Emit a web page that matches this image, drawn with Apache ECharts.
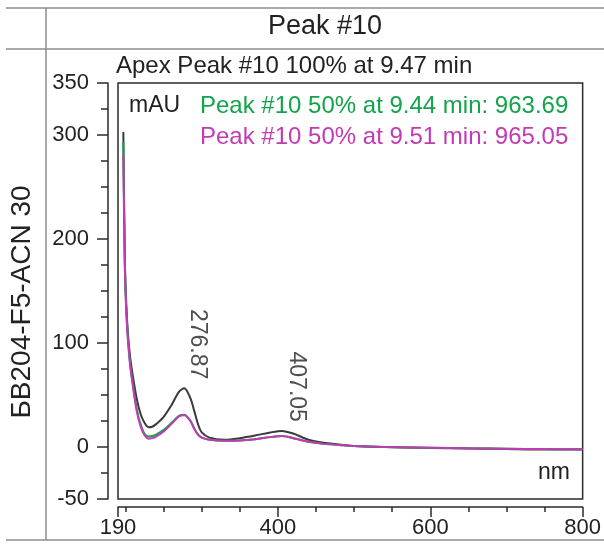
<!DOCTYPE html>
<html>
<head>
<meta charset="utf-8">
<script src="https://cdn.jsdelivr.net/npm/echarts@6/dist/echarts.min.js"></script>
<style>
  html, body { margin: 0; padding: 0; background: #fff; }
  #main { width: 604px; height: 549px; }
</style>
</head>
<body>
<div id="main"></div>
<script>
// wavelength (nm) and absorbance (mAU)
var wavelength = [197, 199, 201, 203, 206, 210, 215, 220, 225, 230, 235, 240, 250, 260, 270, 277, 285, 290, 295, 300,
  310, 330, 350, 370, 390, 405, 420, 440, 460, 480, 500, 540, 600, 650, 700, 750, 800];
// apex spectrum, 9.47 min (black)
var apexAbs = [303, 180, 135, 110, 86, 66, 45, 31, 23, 19, 19.5, 22, 29, 40, 53, 56.5, 47, 35, 22, 14,
  9, 7, 8.5, 11, 14, 15.5, 13, 7, 4, 2.5, 1, 0, -1, -1.5, -2, -2.5, -2.5];
// 50% upslope, 9.44 min (green)
var upAbs = [293, 176, 130, 105, 80, 58, 35, 21, 12.5, 10, 10.5, 12, 16.5, 23, 30, 31, 25.5, 18, 12, 9,
  7, 6, 6.3, 7.5, 9.5, 10.5, 8.5, 5, 3, 2, 1, 0, -0.8, -1.3, -1.6, -2, -2.2];
// 50% downslope, 9.51 min (magenta)
var downAbs = [281, 172, 128, 103, 78, 56, 33, 19, 11, 8, 8.5, 10, 15, 22, 29.5, 30.5, 25, 17.5, 12, 9,
  7, 6, 6.3, 7.5, 9.5, 10.5, 8.5, 5, 3, 2, 1, 0, -0.8, -1.3, -1.6, -2, -2.2];

// maxima labelled on the apex spectrum
var peakNm = [276.87, 407.05];
var peakAbs = [56.5, 15.5];

var xLabelTicks = [190, 400, 600, 800];
var xSmallTicks = [190, 200, 250, 300, 350, 400, 450, 500, 550, 600, 650, 700, 750, 800];
var yLabelTicks = [350, 300, 200, 100, 0, -50];
var ySmallTicks = [-50, -25, 0, 25, 50, 75, 100, 125, 150, 175, 200, 225, 250, 275, 300, 325, 350];

var txt = '#222';
var font = '"Liberation Sans", Arial, sans-serif';

function zip(xs, ys) {
  return xs.map(function (x, i) { return [x, ys[i]]; });
}

var myChart = echarts.init(document.getElementById('main'));

var frame = { stroke: '#8c8c8c', lineWidth: 1.5 };
var axisInk = { color: '#2a2a2a', width: 1.5 };

myChart.setOption({
  animation: false,
  backgroundColor: '#fff',
  textStyle: { fontFamily: font },
  title: [
    { text: 'Peak #10', left: 268, top: 13, padding: 0,
      textStyle: { fontSize: 27, fontWeight: 'normal', color: txt, fontFamily: font } },
    { text: 'Apex Peak #10 100% at 9.47 min', left: 116, top: 54, padding: 0,
      textStyle: { fontSize: 24, fontWeight: 'normal', color: txt, fontFamily: font } },
    { text: 'mAU', left: 129, top: 94, padding: 0,
      textStyle: { fontSize: 23, fontWeight: 'normal', color: txt, fontFamily: font } },
    { text: 'Peak #10 50% at 9.44 min: 963.69', left: 200, top: 94, padding: 0,
      textStyle: { fontSize: 24, fontWeight: 'normal', color: '#13a34b', fontFamily: font } },
    { text: 'Peak #10 50% at 9.51 min: 965.05', left: 200, top: 125, padding: 0,
      textStyle: { fontSize: 24, fontWeight: 'normal', color: '#c23bb5', fontFamily: font } },
    { text: 'nm', left: 538, top: 461, padding: 0,
      textStyle: { fontSize: 23, fontWeight: 'normal', color: txt, fontFamily: font } }
  ],
  // table cell borders around the chart
  graphic: [
    { type: 'line', shape: { x1: 6, y1: 8, x2: 604, y2: 8 }, style: frame },
    { type: 'line', shape: { x1: 6, y1: 49, x2: 604, y2: 49 }, style: frame },
    { type: 'line', shape: { x1: 46, y1: 8, x2: 46, y2: 540 }, style: frame },
    { type: 'line', shape: { x1: 6, y1: 540, x2: 604, y2: 540 }, style: frame }
  ],
  grid: {
    left: 117, top: 83, width: 471, height: 416,
    show: true, borderColor: '#2a2a2a', borderWidth: 1.5, backgroundColor: 'transparent'
  },
  xAxis: [
    {
      type: 'value', min: 190, max: 800, position: 'bottom', offset: 8,
      axisLine: { show: true, onZero: false, lineStyle: axisInk },
      axisTick: { show: true, customValues: xSmallTicks, length: 5, lineStyle: axisInk },
      axisLabel: { customValues: xLabelTicks, fontSize: 22, color: txt, margin: 10, fontFamily: font,
        showMinLabel: true, showMaxLabel: true },
      splitLine: { show: false }
    },
    {
      type: 'value', min: 190, max: 800, position: 'bottom', offset: 8,
      axisLine: { show: false, onZero: false },
      axisTick: { show: true, customValues: xLabelTicks, length: 10, lineStyle: axisInk },
      axisLabel: { show: false },
      splitLine: { show: false }
    }
  ],
  yAxis: [
    {
      type: 'value', min: -50, max: 350, position: 'left', offset: 10,
      name: 'БВ204-F5-ACN 30', nameLocation: 'middle', nameRotate: 90, nameGap: 72,
      nameTextStyle: { fontSize: 28, color: txt, fontFamily: font, padding: [0, 22, 0, 0] },
      axisLine: { show: true, onZero: false, lineStyle: axisInk },
      axisTick: { show: true, customValues: ySmallTicks, length: 7, lineStyle: axisInk },
      axisLabel: { customValues: yLabelTicks, fontSize: 22, color: txt, margin: 19, fontFamily: font,
        showMinLabel: true, showMaxLabel: true },
      splitLine: { show: false }
    },
    {
      type: 'value', min: -50, max: 350, position: 'left', offset: 10,
      axisLine: { show: false, onZero: false },
      axisTick: { show: true, customValues: yLabelTicks, length: 11, lineStyle: axisInk },
      axisLabel: { show: false },
      splitLine: { show: false }
    }
  ],
  series: [
    {
      name: 'apex', type: 'line', data: zip(wavelength, apexAbs),
      showSymbol: false, smooth: 0.3, lineStyle: { color: '#3a3a3a', width: 2 }, itemStyle: { color: '#3a3a3a' }
    },
    {
      name: 'up', type: 'line', data: zip(wavelength, upAbs),
      showSymbol: false, smooth: 0.3, lineStyle: { color: '#13a34b', width: 2 }, itemStyle: { color: '#13a34b' }
    },
    {
      name: 'down', type: 'line', data: zip(wavelength, downAbs),
      showSymbol: false, smooth: 0.3, lineStyle: { color: '#c23bb5', width: 2 }, itemStyle: { color: '#c23bb5' }
    },
    {
      name: 'maxima', type: 'scatter', data: zip(peakNm, peakAbs),
      symbolSize: 2, itemStyle: { color: 'rgba(0,0,0,0)' }, z: 5, silent: true,
      label: {
        show: true, position: [0, 0], rotate: -90, align: 'right', verticalAlign: 'bottom',
        offset: [-8, -3], fontSize: 23, color: txt, fontFamily: font,
        formatter: function (p) { return p.value[0].toFixed(2); }
      }
    }
  ]
});
</script>
</body>
</html>
